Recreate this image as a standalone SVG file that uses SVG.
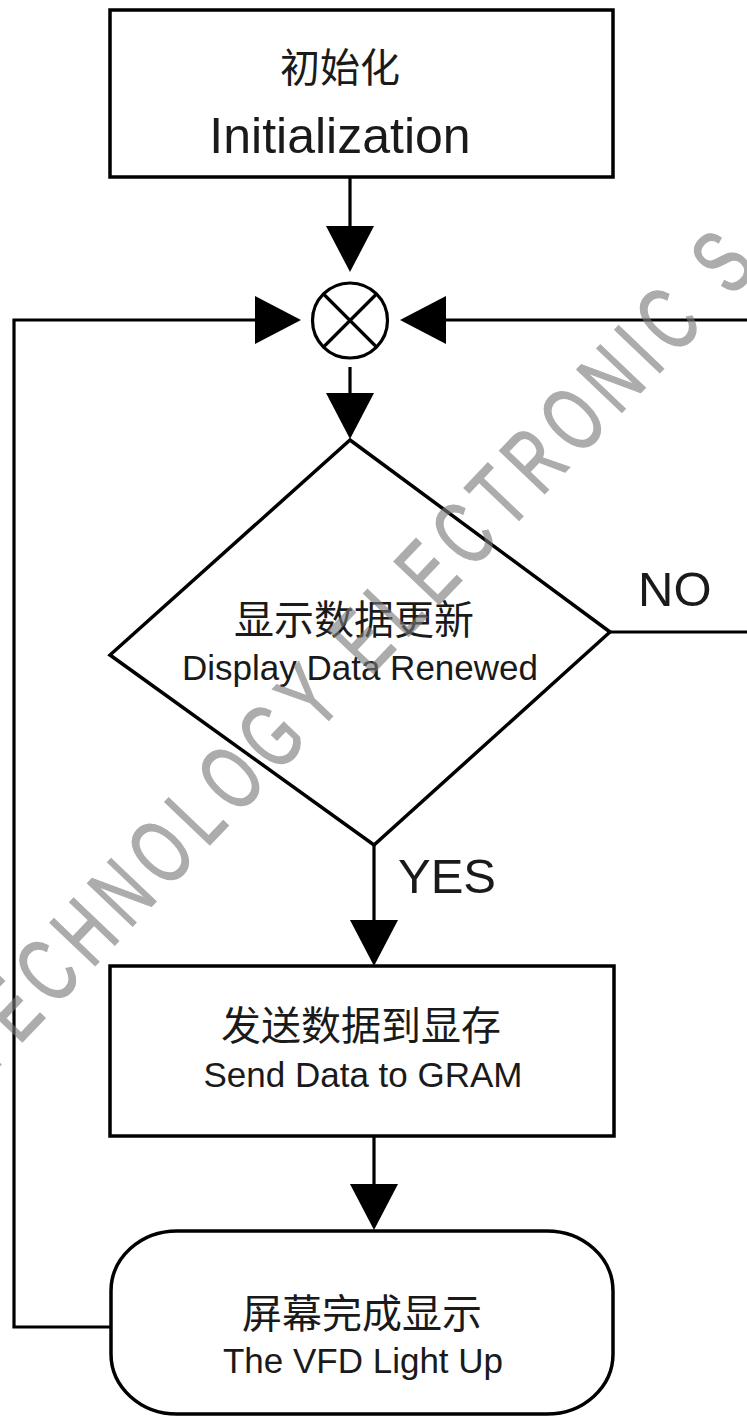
<svg xmlns="http://www.w3.org/2000/svg" width="747" height="1418" viewBox="0 0 747 1418">
  <style>
    .box { fill: #ffffff; stroke: #000000; stroke-width: 3.5; }
    .ln { fill: none; stroke: #000000; stroke-width: 3.2; }
    .cn { font-family: "Noto Sans CJK SC", "Liberation Sans", sans-serif; font-size: 40px; fill: #1a1a1a; text-anchor: middle; }
    .en { font-family: "Liberation Sans", Arial, sans-serif; fill: #1a1a1a; text-anchor: middle; }
    .lbl { font-family: "Liberation Sans", Arial, sans-serif; font-size: 49px; fill: #1a1a1a; }
    .wm { font-family: "Liberation Sans", Arial, sans-serif; font-size: 90px; fill: #7a7a7a; stroke: #7a7a7a; stroke-width: 1.6px; opacity: 0.62; letter-spacing: 15px; }
  </style>
  <defs>
    <marker id="arrow" markerUnits="userSpaceOnUse" markerWidth="46" markerHeight="48" refX="0" refY="24" orient="auto">
      <path d="M0,0 L46,24 L0,48 Z" fill="#000000"/>
    </marker>
  </defs>
  <rect width="747" height="1418" fill="#ffffff"/>

  <g id="connectors">
    <line class="ln" x1="350" y1="177" x2="350" y2="226" marker-end="url(#arrow)"/>
    <line class="ln" x1="350" y1="367" x2="350" y2="393" marker-end="url(#arrow)"/>
    <polyline class="ln" points="110,1327 14,1327 14,320 255,320" marker-end="url(#arrow)"/>
    <line class="ln" x1="747" y1="320" x2="446" y2="320" marker-end="url(#arrow)"/>
    <line class="ln" x1="610" y1="632" x2="747" y2="632"/>
    <line class="ln" x1="374" y1="845" x2="374" y2="920" marker-end="url(#arrow)"/>
    <line class="ln" x1="374" y1="1136" x2="374" y2="1184" marker-end="url(#arrow)"/>
    <text class="lbl" x="638" y="606">NO</text>
    <text class="lbl" x="398" y="893">YES</text>
  </g>

  <g id="init">
    <rect class="box" x="110" y="10" width="503" height="167"/>
    <text class="cn" x="340" y="82">初始化</text>
    <text class="en" x="340" y="153" font-size="50">Initialization</text>
  </g>

  <g id="junction">
    <circle cx="350" cy="320.5" r="37.5" fill="#ffffff" stroke="#000000" stroke-width="3.2"/>
    <line class="ln" x1="323.5" y1="294" x2="376.5" y2="347"/>
    <line class="ln" x1="376.5" y1="294" x2="323.5" y2="347"/>
  </g>

  <g id="decision">
    <polygon class="box" points="350,440 610,632 374,845 110,655" stroke-width="3.2"/>
    <text class="cn" x="354" y="634">显示数据更新</text>
    <text class="en" x="360" y="680" font-size="35">Display Data Renewed</text>
  </g>

  <g id="send">
    <rect class="box" x="110" y="966" width="504" height="170"/>
    <text class="cn" x="361" y="1040">发送数据到显存</text>
    <text class="en" x="363" y="1087" font-size="35">Send Data to GRAM</text>
  </g>

  <g id="lightup">
    <rect class="box" x="111" y="1231" width="502" height="183" rx="66" ry="60"/>
    <text class="cn" x="362" y="1328">屏幕完成显示</text>
    <text class="en" x="363" y="1373" font-size="35">The VFD Light Up</text>
  </g>

  <g id="watermark">
    <text class="wm" x="0" y="0" transform="translate(-14,1080) rotate(-46.4) scale(0.68,1)">TECHNOLOGY ELECTRONIC S</text>
  </g>
</svg>
